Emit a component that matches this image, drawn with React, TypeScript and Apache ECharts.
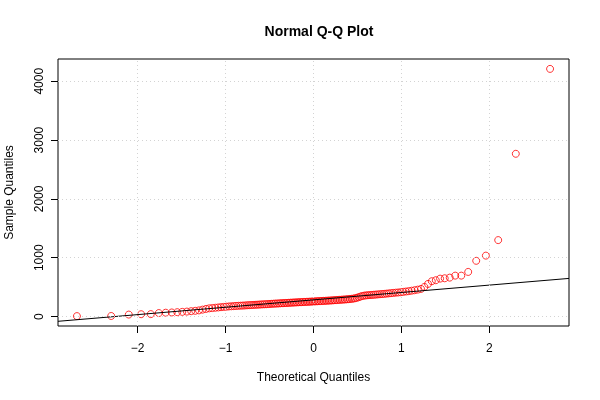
import React, { useEffect, useRef } from "react";
import * as echarts from "echarts";

// Sorted sample values, n = 140
const sampleValues: number[] = [
  8, 10, 34, 40, 42, 60, 66, 70, 75, 80, 85, 92, 98, 105, 118, 130, 140, 145, 150, 155,
  160, 164, 168, 172, 175, 178, 181, 183, 185, 187, 189, 192, 194, 196, 198, 200, 202, 204, 206, 208, 209, 211, 213, 215, 217,
  219, 221, 222, 224, 226, 228, 229, 231, 232, 234, 236, 237, 239, 240, 242, 243, 245, 246, 248, 249, 250, 252, 253, 255, 256,
  258, 259, 261, 262, 264, 265, 267, 268, 270, 272, 273, 275, 277, 279, 281, 283, 285, 287, 289, 291, 293, 296, 299, 302, 306,
  312, 320, 330, 340, 350, 356, 360, 363, 366, 368,
  371, 374, 377, 380, 383, 386, 390, 394, 398, 402, 406, 410, 414, 420, 426, 432, 440, 448, 458, 470,
  504, 555, 601, 618, 645, 651, 662, 696, 696, 759, 948, 1036, 1300, 2767, 4210,
];

const xTicks: number[] = [-2, -1, 0, 1, 2];
const yTicks: number[] = [0, 1000, 2000, 3000, 4000];

const FONT = "'Liberation Sans', Arial, Helvetica, sans-serif";

// Inverse standard normal CDF (Acklam)
function qnorm(p: number): number {
  const a = [-3.969683028665376e1, 2.209460984245205e2, -2.759285104469687e2, 1.38357751867269e2, -3.066479806614716e1, 2.506628277459239];
  const b = [-5.447609879822406e1, 1.615858368580409e2, -1.556989798598866e2, 6.680131188771972e1, -1.328068155288572e1];
  const c = [-7.784894002430293e-3, -3.223964580411365e-1, -2.400758277161838, -2.549671010322563, 4.374664141464968, 2.938163982698783];
  const d = [7.784695709041462e-3, 3.224671290700398e-1, 2.445134137142996, 3.754408661907416];
  const pl = 0.02425;
  let q: number, r: number;
  if (p < pl) {
    q = Math.sqrt(-2 * Math.log(p));
    return (((((c[0] * q + c[1]) * q + c[2]) * q + c[3]) * q + c[4]) * q + c[5]) / ((((d[0] * q + d[1]) * q + d[2]) * q + d[3]) * q + 1);
  }
  if (p > 1 - pl) {
    q = Math.sqrt(-2 * Math.log(1 - p));
    return -(((((c[0] * q + c[1]) * q + c[2]) * q + c[3]) * q + c[4]) * q + c[5]) / ((((d[0] * q + d[1]) * q + d[2]) * q + d[3]) * q + 1);
  }
  q = p - 0.5;
  r = q * q;
  return ((((((a[0] * r + a[1]) * r + a[2]) * r + a[3]) * r + a[4]) * r + a[5]) * q) / (((((b[0] * r + b[1]) * r + b[2]) * r + b[3]) * r + b[4]) * r + 1);
}

function quantile7(sorted: number[], p: number): number {
  const h = (sorted.length - 1) * p;
  const lo = Math.floor(h);
  const hi = Math.ceil(h);
  return sorted[lo] + (h - lo) * (sorted[hi] - sorted[lo]);
}

const minus = (v: number) => (v < 0 ? "\u2212" + Math.abs(v) : String(v));

export default function App() {
  const ref = useRef<HTMLDivElement>(null);
  useEffect(() => {
    if (!ref.current) return;
    const chart = echarts.init(ref.current, null, { renderer: "svg" });
    const n = sampleValues.length;
    const theo = sampleValues.map((_, i) => qnorm((i + 0.5) / n));
    const points = sampleValues.map((v, i) => [theo[i], v]);

    const xr = theo[n - 1] - theo[0];
    const xMin = theo[0] - 0.04 * xr;
    const xMax = theo[n - 1] + 0.04 * xr;
    const yr = sampleValues[n - 1] - sampleValues[0];
    const yMin = sampleValues[0] - 0.04 * yr;
    const yMax = sampleValues[n - 1] + 0.04 * yr;

    const q1 = quantile7(sampleValues, 0.25);
    const q3 = quantile7(sampleValues, 0.75);
    const z1 = qnorm(0.25);
    const z3 = qnorm(0.75);
    const slope = (q3 - q1) / (z3 - z1);
    const intercept = q1 - slope * z1;

    chart.setOption({
      animation: false,
      title: {
        text: "Normal Q-Q Plot",
        left: 314,
        top: 19,
        textAlign: "center",
        textStyle: { fontFamily: FONT, fontSize: 14, fontWeight: "bold", color: "#000" },
      },
      grid: {
        left: 58,
        right: 31,
        top: 59,
        bottom: 74,
        outerBoundsMode: "none",
        containLabel: false,
        show: true,
        borderColor: "#000",
        borderWidth: 1,
        backgroundColor: "transparent",
      },
      xAxis: {
        type: "value",
        min: xMin,
        max: xMax,
        name: "Theoretical Quantiles",
        nameLocation: "middle",
        nameGap: 45,
        nameTextStyle: { fontFamily: FONT, fontSize: 12, color: "#000" },
        axisLine: { show: false, onZero: false },
        splitLine: { show: false },
        axisTick: { show: true, customValues: xTicks, length: 7, lineStyle: { color: "#000" } },
        axisLabel: {
          customValues: xTicks,
          margin: 16,
          fontFamily: FONT,
          fontSize: 12,
          color: "#000",
          formatter: (v: number) => minus(v),
        },
      },
      yAxis: {
        type: "value",
        min: yMin,
        max: yMax,
        name: "Sample Quantiles",
        nameLocation: "middle",
        nameGap: 43,
        nameTextStyle: { fontFamily: FONT, fontSize: 12, color: "#000" },
        axisLine: { show: false, onZero: false },
        splitLine: { show: false },
        axisTick: { show: true, customValues: yTicks, length: 7, lineStyle: { color: "#000" } },
        axisLabel: {
          customValues: yTicks,
          rotate: 90,
          margin: 13,
          fontFamily: FONT,
          fontSize: 12,
          color: "#000",
          formatter: (v: number) => String(v),
        },
      },
      series: [
        {
          type: "line",
          data: [],
          z: 1,
          silent: true,
          markLine: {
            silent: true,
            symbol: ["none", "none"],
            label: { show: false },
            lineStyle: { color: "#d3d3d3", type: [1, 3], width: 1 },
            data: [
              ...xTicks.map((v) => ({ xAxis: v })),
              ...yTicks.map((v) => ({ yAxis: v })),
            ],
          },
        },
        {
          type: "scatter",
          data: points,
          z: 2,
          symbol: "circle",
          symbolSize: 7,
          silent: true,
          itemStyle: { color: "rgba(0,0,0,0)", borderColor: "#ff0000", borderWidth: 1 },
        },
        {
          type: "line",
          data: [
            [xMin, intercept + slope * xMin],
            [xMax, intercept + slope * xMax],
          ],
          z: 3,
          silent: true,
          symbol: "none",
          lineStyle: { color: "#000", width: 1 },
        },
      ],
    });
    return () => chart.dispose();
  }, []);
  return <div ref={ref} style={{ position: "fixed", left: 0, top: 0, width: 600, height: 400 }} />;
}
